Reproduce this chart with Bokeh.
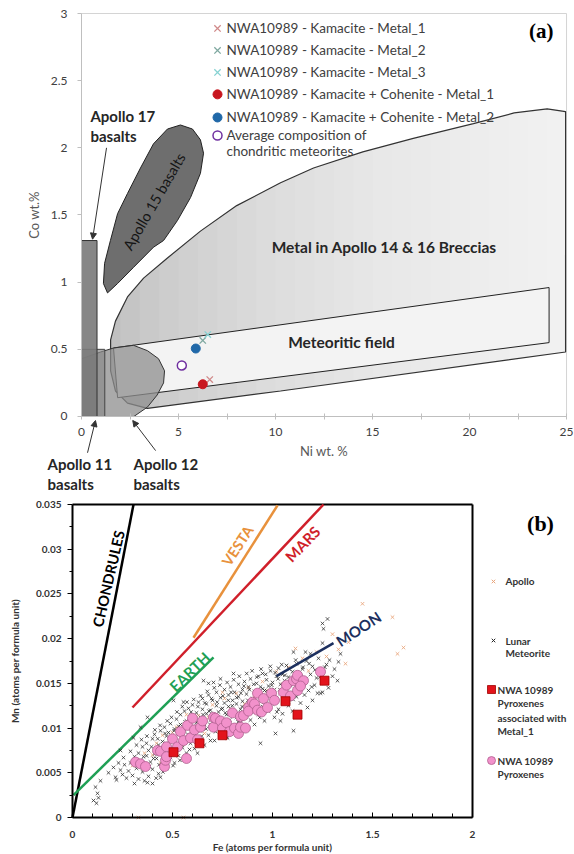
import numpy as np
from bokeh.plotting import figure
from bokeh.layouts import column
from bokeh.models import (Range1d, FixedTicker, NumeralTickFormatter, Label, Arrow,
                          NormalHead, LinearAxis)
from bokeh.core.properties import value
from bokeh.embed import file_html
from bokeh.resources import INLINE

FONT = "Lato"

# ================= Panel (a) data =================
A_XTICKS = [0, 5, 10, 15, 20, 25]
A_XMINOR = [2.5, 7.5, 12.5, 17.5, 22.5]
A_YTICKS = [0, 0.5, 1, 1.5, 2, 2.5, 3]
A_XMAX, A_YMAX = 25, 3

BRECCIA_NI = [1.5, 1.5, 1.75, 2.37, 3.2, 4.43, 6.13, 8.0, 10.26, 11.96, 14.5, 17.1, 20.2,
              22.3, 24.0, 24.95, 24.95, 10.26, 3.4, 2.37, 1.75]
BRECCIA_CO = [0.34, 0.57, 0.71, 0.89, 1.03, 1.18, 1.38, 1.57, 1.74, 1.85, 1.97, 2.07, 2.18,
              2.26, 2.29, 2.27, 0.48, 0.19, 0.06, 0.10, 0.19]

METEORITIC_NI = [1.65, 24.1, 24.1, 1.86]
METEORITIC_CO = [0.51, 0.96, 0.55, 0.14]

APOLLO12_NI = [0.0, 0.98, 1.65, 2.68, 3.4, 3.97, 4.28, 4.23, 3.9, 3.4, 2.7, 0.0]
APOLLO12_CO = [0.43, 0.48, 0.51, 0.53, 0.49, 0.43, 0.34, 0.25, 0.16, 0.07, 0.0, 0.0]

APOLLO11_NI = [0.0, 1.2, 1.2, 0.0]
APOLLO11_CO = [0.0, 0.0, 0.5, 0.5]

APOLLO17_NI = [0.0, 0.8, 0.8, 0.0]
APOLLO17_CO = [0.0, 0.0, 1.31, 1.31]

APOLLO15_NI = [1.49, 1.86, 2.37, 3.04, 3.71, 4.43, 5.1, 5.72, 6.13, 6.29, 6.13, 5.62, 4.95,
               4.23, 3.71, 2.68, 1.86, 1.34, 1.13, 1.19]
APOLLO15_CO = [1.31, 1.51, 1.66, 1.85, 2.03, 2.14, 2.17, 2.14, 2.06, 1.96, 1.81, 1.63, 1.46,
               1.31, 1.26, 1.11, 0.99, 0.92, 0.99, 1.14]

KAM_M1_NI, KAM_M1_CO = [6.61], [0.275]
KAM_M2_NI, KAM_M2_CO = [6.25], [0.566]
KAM_M3_NI, KAM_M3_CO = [6.51], [0.61]
KC_M1_NI, KC_M1_CO = [6.25], [0.24]
KC_M2_NI, KC_M2_CO = [5.89], [0.506]
CHOND_NI, CHOND_CO = [5.17], [0.38]

LEG_A_LABELS = ["NWA10989 - Kamacite - Metal_1",
                "NWA10989 - Kamacite - Metal_2",
                "NWA10989 - Kamacite - Metal_3",
                "NWA10989 - Kamacite + Cohenite - Metal_1",
                "NWA10989 - Kamacite + Cohenite - Metal_2",
                "Average composition of",
                "chondritic meteorites"]

# ================= Panel (b) data =================
B_XTICKS = [0, 0.5, 1, 1.5, 2]
B_XMINOR = [0.1, 0.2, 0.3, 0.4, 0.6, 0.7, 0.8, 0.9, 1.1, 1.2, 1.3, 1.4, 1.6, 1.7, 1.8, 1.9]
B_YTICKS = [0, 0.005, 0.01, 0.015, 0.02, 0.025, 0.03, 0.035]
B_YMINOR = [0.0025, 0.0075, 0.0125, 0.0175, 0.0225, 0.0275, 0.0325]
B_XMAX, B_YMAX = 2, 0.035

CHONDRULES_FE, CHONDRULES_MN = [0.0, 0.305], [0.0, 0.035]
EARTH_FE, EARTH_MN = [0.005, 0.705], [0.0025, 0.0179]
MARS_FE, MARS_MN = [0.30, 1.255], [0.0123, 0.035]
VESTA_FE, VESTA_MN = [0.605, 1.025], [0.0201, 0.0349]
MOON_FE, MOON_MN = [1.02, 1.305], [0.0158, 0.0195]

LUNAR_FE = [0.28, 0.29, 0.30, 0.31, 0.32, 0.33, 0.33, 0.34, 0.35, 0.35,
            0.36, 0.37, 0.37, 0.38, 0.38, 0.39, 0.40, 0.40, 0.41, 0.41,
            0.42, 0.43, 0.43, 0.44, 0.44, 0.45, 0.45, 0.46, 0.46, 0.47,
            0.47, 0.48, 0.48, 0.49, 0.49, 0.50, 0.50, 0.51, 0.51, 0.52,
            0.52, 0.53, 0.53, 0.54, 0.54, 0.55, 0.55, 0.56, 0.56, 0.57,
            0.57, 0.58, 0.58, 0.59, 0.59, 0.60, 0.60, 0.61, 0.61, 0.62,
            0.62, 0.63, 0.63, 0.64, 0.64, 0.65, 0.65, 0.66, 0.66, 0.67,
            0.67, 0.68, 0.68, 0.69, 0.69, 0.70, 0.70, 0.71, 0.71, 0.72,
            0.72, 0.73, 0.73, 0.74, 0.74, 0.75, 0.75, 0.76, 0.76, 0.77,
            0.77, 0.78, 0.78, 0.79, 0.79, 0.80, 0.80, 0.81, 0.81, 0.82,
            0.82, 0.83, 0.83, 0.84, 0.84, 0.85, 0.85, 0.86, 0.86, 0.87,
            0.87, 0.88, 0.88, 0.89, 0.89, 0.90, 0.90, 0.91, 0.91, 0.92,
            0.92, 0.93, 0.93, 0.94, 0.94, 0.95, 0.95, 0.96, 0.96, 0.97,
            0.97, 0.98, 0.98, 0.99, 0.99, 1.00, 1.00, 1.01, 1.01, 1.02,
            1.02, 1.03, 1.03, 1.04, 1.04, 1.05, 1.05, 1.06, 1.06, 1.07,
            1.07, 1.08, 1.08, 1.09, 1.09, 1.10, 1.10, 1.11, 1.12, 1.12,
            1.13, 1.14, 1.14, 1.15, 1.16, 1.16, 1.17, 1.18, 1.19, 1.20,
            1.20, 1.21, 1.22, 1.23, 1.24, 1.25, 1.26, 1.27, 1.28, 1.30,
            0.22, 0.24, 0.26, 0.27, 0.23, 0.25,
            0.115, 0.125, 0.105, 0.13, 0.12, 0.14, 0.18, 0.205, 0.215, 0.255,
            0.24, 0.305, 0.34, 0.375, 0.505, 0.555, 0.655, 0.68, 0.705, 0.74,
            0.805, 0.375, 0.40, 0.44, 0.625, 0.69, 0.775,
            1.25, 1.275, 1.255, 1.34, 1.325, 1.225, 1.25, 1.105, 1.015, 0.94,
            1.175, 1.04, 1.19, 1.165, 1.105, 1.25,
            0.29, 0.31, 0.32, 0.335, 0.345, 0.355, 0.36, 0.372, 0.385, 0.395,
            0.405, 0.412, 0.418, 0.426, 0.433, 0.438, 0.447, 0.452, 0.463, 0.468,
            0.474, 0.483, 0.487, 0.495, 0.503, 0.508, 0.516, 0.522, 0.531, 0.537,
            0.545, 0.549, 0.558, 0.563, 0.572, 0.577, 0.585, 0.593, 0.598, 0.606,
            0.612, 0.618, 0.627, 0.633, 0.641, 0.646, 0.653, 0.661, 0.668, 0.674,
            0.682, 0.688, 0.695, 0.703, 0.709, 0.716, 0.723, 0.731, 0.737, 0.744,
            0.752, 0.758, 0.764, 0.773, 0.779, 0.786, 0.793, 0.799, 0.806, 0.813,
            0.821, 0.828, 0.834, 0.842, 0.848, 0.857, 0.863, 0.871, 0.877, 0.884,
            0.893, 0.898, 0.906, 0.913, 0.921, 0.928, 0.936, 0.943, 0.951, 0.958,
            0.966, 0.974, 0.981, 0.989, 0.996, 1.006, 1.013, 1.022, 1.028, 1.037,
            1.046, 1.053, 1.062, 1.071, 1.083, 1.094, 1.103, 1.116, 1.127, 1.138,
            1.152, 1.167, 1.183, 1.196, 1.212, 1.236, 1.262, 1.285, 1.31, 1.33]
LUNAR_MN = [0.0052, 0.0061, 0.0047, 0.0068, 0.0055, 0.0072, 0.0043, 0.0064, 0.0079, 0.0051,
            0.0058, 0.0083, 0.0069, 0.0046, 0.0075, 0.0062, 0.0088, 0.0054, 0.0071, 0.0093,
            0.0066, 0.0081, 0.0049, 0.0076, 0.0097, 0.0060, 0.0085, 0.0070, 0.0101, 0.0091,
            0.0055, 0.0079, 0.0095, 0.0067, 0.0105, 0.0087, 0.0074, 0.0099, 0.0061, 0.0110,
            0.0082, 0.0093, 0.0069, 0.0104, 0.0115, 0.0078, 0.0089, 0.0098, 0.0119, 0.0072,
            0.0108, 0.0091, 0.0122, 0.0083, 0.0113, 0.0101, 0.0126, 0.0077, 0.0094, 0.0117,
            0.0106, 0.0129, 0.0088, 0.0112, 0.0097, 0.0121, 0.0133, 0.0081, 0.0104, 0.0116,
            0.0127, 0.0092, 0.0137, 0.0109, 0.0120, 0.0099, 0.0131, 0.0086, 0.0114, 0.0125,
            0.0140, 0.0103, 0.0118, 0.0095, 0.0134, 0.0122, 0.0108, 0.0143, 0.0128, 0.0090,
            0.0115, 0.0137, 0.0124, 0.0102, 0.0146, 0.0119, 0.0131, 0.0096, 0.0140, 0.0112,
            0.0127, 0.0149, 0.0135, 0.0106, 0.0121, 0.0143, 0.0130, 0.0101, 0.0152, 0.0117,
            0.0138, 0.0126, 0.0146, 0.0109, 0.0155, 0.0133, 0.0122, 0.0141, 0.0104, 0.0150,
            0.0128, 0.0158, 0.0115, 0.0137, 0.0146, 0.0124, 0.0161, 0.0108, 0.0142, 0.0132,
            0.0154, 0.0119, 0.0147, 0.0138, 0.0164, 0.0127, 0.0151, 0.0112, 0.0143, 0.0158,
            0.0134, 0.0167, 0.0121, 0.0149, 0.0140, 0.0160, 0.0116, 0.0153, 0.0131, 0.0145,
            0.0170, 0.0125, 0.0157, 0.0139, 0.0148, 0.0163, 0.0119, 0.0152, 0.0135, 0.0172,
            0.0144, 0.0158, 0.0128, 0.0166, 0.0137, 0.0151, 0.0175, 0.0142, 0.0160, 0.0131,
            0.0169, 0.0148, 0.0156, 0.0178, 0.0139, 0.0163, 0.0150, 0.0171, 0.0145, 0.0158,
            0.0042, 0.0053, 0.0059, 0.0044, 0.0061, 0.0048,
            0.0034, 0.0027, 0.0019, 0.0022, 0.0016, 0.0041, 0.0050, 0.0056, 0.0045, 0.0067,
            0.0075, 0.0089, 0.0101, 0.0112, 0.0131, 0.0129, 0.0153, 0.0150, 0.0151, 0.0155,
            0.0161, 0.0039, 0.0038, 0.0045, 0.0072, 0.0086, 0.0089,
            0.0217, 0.0222, 0.0211, 0.0183, 0.0153, 0.0139, 0.0140, 0.0097, 0.0094, 0.0083,
            0.0123, 0.0108, 0.0183, 0.0185, 0.0185, 0.0195,
            0.0074, 0.0038, 0.0081, 0.0058, 0.0087, 0.0068, 0.0041, 0.0091, 0.0057, 0.0079,
            0.0066, 0.0098, 0.0044, 0.0088, 0.0059, 0.0103, 0.0078, 0.0051, 0.0094, 0.0083,
            0.0108, 0.0066, 0.0089, 0.0112, 0.0058, 0.0097, 0.0080, 0.0118, 0.0102, 0.0064,
            0.0095, 0.0124, 0.0084, 0.0107, 0.0129, 0.0093, 0.0076, 0.0118, 0.0098, 0.0132,
            0.0109, 0.0087, 0.0124, 0.0102, 0.0136, 0.0091, 0.0115, 0.0128, 0.0099, 0.0141,
            0.0119, 0.0104, 0.0133, 0.0114, 0.0145, 0.0096, 0.0129, 0.0111, 0.0148, 0.0121,
            0.0136, 0.0103, 0.0117, 0.0151, 0.0131, 0.0109, 0.0140, 0.0125, 0.0154, 0.0118,
            0.0134, 0.0107, 0.0158, 0.0139, 0.0124, 0.0147, 0.0112, 0.0161, 0.0131, 0.0143,
            0.0118, 0.0164, 0.0149, 0.0127, 0.0157, 0.0136, 0.0112, 0.0166, 0.0144, 0.0129,
            0.0160, 0.0141, 0.0123, 0.0169, 0.0148, 0.0135, 0.0162, 0.0118, 0.0155, 0.0143,
            0.0171, 0.0128, 0.0159, 0.0137, 0.0166, 0.0151, 0.0132, 0.0176, 0.0161, 0.0147,
            0.0168, 0.0155, 0.0172, 0.0146, 0.0165, 0.0157, 0.0168, 0.0176, 0.0166, 0.0174]

APOLLO_FE = [0.45, 0.52, 0.58, 0.63, 0.70, 0.76, 0.82, 0.88, 0.95, 1.02,
             1.08, 1.15, 1.22, 1.115, 1.365, 1.45, 1.60, 1.625, 1.655, 0.33,
             0.555, 0.40, 0.48, 0.66, 0.92, 1.30, 1.38, 0.60, 0.85, 1.00,
             0.36, 0.42, 0.50, 0.55, 0.62, 0.68, 0.73, 0.79, 0.86, 0.91,
             0.97, 1.05, 1.12, 1.18, 1.27, 0.30, 0.44, 0.57, 0.75, 1.33]
APOLLO_MN = [0.0092, 0.0101, 0.0107, 0.0114, 0.0126, 0.0133, 0.0139, 0.0145, 0.0152, 0.0163,
             0.0168, 0.0178, 0.0185, 0.0189, 0.0172, 0.0239, 0.0224, 0.0183, 0.0190, 0.0,
             0.0, 0.0070, 0.0063, 0.0094, 0.0118, 0.0205, 0.0196, 0.0088, 0.0110, 0.0135,
             0.0072, 0.0083, 0.0095, 0.0081, 0.0099, 0.0112, 0.0106, 0.0121, 0.0127, 0.0134,
             0.0142, 0.0149, 0.0158, 0.0164, 0.0180, 0.0058, 0.0061, 0.0115, 0.0140, 0.0188]

PYX_FE = [0.315, 0.34, 0.365, 0.425, 0.44, 0.46, 0.465, 0.47, 0.47, 0.50,
          0.525, 0.54, 0.555, 0.57, 0.575, 0.59, 0.60, 0.61, 0.625, 0.64,
          0.65, 0.705, 0.705, 0.715, 0.74, 0.75, 0.77, 0.785, 0.80, 0.81,
          0.83, 0.84, 0.855, 0.84, 0.865, 0.88, 0.88, 0.90, 0.91, 0.925,
          0.925, 0.945, 0.955, 0.975, 0.995, 1.01, 1.055, 1.07, 1.09, 1.105,
          1.12, 1.125, 1.125, 1.155, 1.24, 1.14]
PYX_MN = [0.0062, 0.0060, 0.0057, 0.0075, 0.0074, 0.0057, 0.0064, 0.0079, 0.0068, 0.0088,
          0.0079, 0.0096, 0.0086, 0.0066, 0.0103, 0.0089, 0.0111, 0.0098, 0.0087, 0.0101,
          0.0108, 0.0101, 0.0112, 0.0111, 0.0108, 0.0100, 0.0106, 0.0096, 0.0117, 0.0100,
          0.0094, 0.0113, 0.0114, 0.0101, 0.0100, 0.0123, 0.0119, 0.0129, 0.0127, 0.0139,
          0.0120, 0.0118, 0.0133, 0.0123, 0.0139, 0.0131, 0.0140, 0.0148, 0.0136, 0.0153,
          0.0155, 0.0142, 0.0159, 0.0153, 0.0163, 0.0147]

PYX_M1_FE = [0.505, 0.635, 0.75, 1.065, 1.125, 1.26]
PYX_M1_MN = [0.0073, 0.0083, 0.0092, 0.0130, 0.0115, 0.0153]

# ================= Panel (a) =================
# the frame fills the whole figure; axes are fixed at 0 so the margin texts live inside it
pa = figure(width=574, height=494, x_range=Range1d(-4.175, 25.41), y_range=Range1d(-0.5807, 3.0968),
            x_axis_location=None, y_axis_location=None,
            output_backend="svg", toolbar_location=None,
            min_border_left=0, min_border_right=0, min_border_top=0, min_border_bottom=0)
pa.grid.visible = False
pa.outline_line_color = None

xa = LinearAxis(fixed_location=0, bounds=(0, A_XMAX),
                ticker=FixedTicker(ticks=A_XTICKS, minor_ticks=A_XMINOR))
pa.add_layout(xa, "below")
ya = LinearAxis(fixed_location=0, bounds=(0, A_YMAX),
                ticker=FixedTicker(ticks=A_YTICKS, minor_ticks=[]),
                formatter=NumeralTickFormatter(format="0.[0]"))
pa.add_layout(ya, "left")
# light frame on top and right
pa.segment(x0=[0, A_XMAX], y0=[A_YMAX, 0], x1=[A_XMAX, A_XMAX], y1=[A_YMAX, A_YMAX],
           line_color="#d4d4d4", line_width=1)

for ax in (xa, ya):
    ax.axis_line_color = "#bfbfbf"
    ax.major_tick_line_color = "#bfbfbf"
    ax.minor_tick_line_color = "#bfbfbf"
    ax.major_label_text_font = FONT
    ax.major_label_text_font_size = "12px"
    ax.major_label_text_color = "#404040"
    ax.axis_label_text_font = FONT
    ax.axis_label_text_font_style = "normal"
    ax.axis_label_text_font_size = "13px"
    ax.axis_label_text_color = "#595959"

xa.major_tick_in = 3
xa.major_tick_out = 3
xa.minor_tick_in = 3
xa.minor_tick_out = 3
xa.major_label_standoff = 9
xa.axis_label = "Ni wt. %"
xa.axis_label_standoff = 3

ya.major_tick_in = 0
ya.major_tick_out = 4
ya.major_label_standoff = 10
ya.axis_label = "Co wt.%"
ya.axis_label_standoff = 6

# breccia field, lightening from left to right
pa.patch(BRECCIA_NI, BRECCIA_CO, fill_color="#c0c0c0", line_color=None)
lefts = np.linspace(2.0, 24.0, 23)
pa.quad(left=lefts, right=24.95, bottom=0, top=2.35,
        fill_color="white", fill_alpha=0.08, line_color=None)
pa.patch(BRECCIA_NI, BRECCIA_CO, fill_color=None, line_color="#333333", line_width=1.2)

pa.patch(METEORITIC_NI, METEORITIC_CO, fill_color="#f3f3f3", line_color="#222222", line_width=1)
pa.patch(APOLLO12_NI, APOLLO12_CO, fill_color="#8e8e8e", fill_alpha=0.75,
         line_color="#333333", line_width=1)
pa.patch(APOLLO11_NI, APOLLO11_CO, fill_color="#8a8a8a", fill_alpha=0.7,
         line_color="#444444", line_width=1)
pa.patch(APOLLO17_NI, APOLLO17_CO, fill_color="#7a7a7a", fill_alpha=0.9,
         line_color="#333333", line_width=1)
pa.patch(APOLLO15_NI, APOLLO15_CO, fill_color="#6e6e6e", line_color="#222222", line_width=1)

# data points
pa.scatter(KAM_M1_NI, KAM_M1_CO, marker="x", size=9, line_color="#d08a8a", line_width=1.3)
pa.scatter(KAM_M2_NI, KAM_M2_CO, marker="x", size=9, line_color="#7fa8a0", line_width=1.3)
pa.scatter(KAM_M3_NI, KAM_M3_CO, marker="x", size=9, line_color="#86d2d2", line_width=1.3)
pa.scatter(KC_M1_NI, KC_M1_CO, marker="circle", size=9, fill_color="#c8161e", line_color="#c8161e")
pa.scatter(KC_M2_NI, KC_M2_CO, marker="circle", size=9, fill_color="#2068a8", line_color="#2068a8")
pa.scatter(CHOND_NI, CHOND_CO, marker="circle", size=9, fill_color="white",
           line_color="#7030a0", line_width=1.5)

# legend (a)
LEG_A_X, LEG_A_TX = 7.01, 7.47
LEG_A_Y = [2.889, 2.725, 2.561, 2.398, 2.226, 2.092, 1.973]
pa.scatter([LEG_A_X], [LEG_A_Y[0]], marker="x", size=9, line_color="#d08a8a", line_width=1.3)
pa.scatter([LEG_A_X], [LEG_A_Y[1]], marker="x", size=9, line_color="#7fa8a0", line_width=1.3)
pa.scatter([LEG_A_X], [LEG_A_Y[2]], marker="x", size=9, line_color="#86d2d2", line_width=1.3)
pa.scatter([LEG_A_X], [LEG_A_Y[3]], marker="circle", size=9, fill_color="#c8161e", line_color="#c8161e")
pa.scatter([LEG_A_X], [LEG_A_Y[4]], marker="circle", size=9, fill_color="#2068a8", line_color="#2068a8")
pa.scatter([LEG_A_X], [LEG_A_Y[5]], marker="circle", size=9, fill_color="white",
           line_color="#7030a0", line_width=1.5)
pa.text(x=[LEG_A_TX] * len(LEG_A_LABELS), y=LEG_A_Y, text=LEG_A_LABELS,
        text_font=value(FONT), text_font_size="13.5px", text_color="#404040",
        text_align="left", text_baseline="middle")

# region labels
pa.text(x=[15.6], y=[1.26], text=["Metal in Apollo 14 & 16 Breccias"], text_font=value(FONT),
        text_font_style="bold", text_font_size="15.5px", text_color="#262626",
        text_align="center", text_baseline="middle")
pa.text(x=[13.4], y=[0.555], text=["Meteoritic field"], text_font=value(FONT),
        text_font_style="bold", text_font_size="15.5px", text_color="#262626",
        text_align="center", text_baseline="middle")
pa.text(x=[3.74], y=[1.60], text=["Apollo 15 basalts"], angle=np.deg2rad(60),
        text_font=value(FONT), text_font_size="14.5px", text_color="#151515",
        text_align="center", text_baseline="middle")

def lab(p, x, y, t, size="15px", font=FONT, style="bold", color="#262626", align="left"):
    p.add_layout(Label(x=x, y=y, text=t, text_font=font, text_font_style=style,
                       text_font_size=size, text_color=color, text_align=align,
                       text_baseline="middle"))

lab(pa, 0.46, 2.24, "Apollo 17")
lab(pa, 0.46, 2.09, "basalts")
lab(pa, -1.75, -0.351, "Apollo 11")
lab(pa, -1.75, -0.50, "basalts")
lab(pa, 2.68, -0.351, "Apollo 12")
lab(pa, 2.68, -0.50, "basalts")
lab(pa, 23.7, 2.87, "(a)", size="21px", font="Liberation Serif", color="#000000", align="center")

for (xs, ys, xe, ye) in [(1.29, 2.0, 0.57, 1.32), (0.31, -0.27, 0.72, -0.03), (3.82, -0.254, 2.64, -0.03)]:
    pa.add_layout(Arrow(end=NormalHead(size=6, fill_color="#333333", line_color="#333333"),
                        x_start=xs, y_start=ys, x_end=xe, y_end=ye,
                        line_color="#333333", line_width=1))

# ================= Panel (b) =================
pb = figure(width=574, height=360, x_range=Range1d(-0.36, 2.51), y_range=Range1d(-0.004137, 0.036118),
            x_axis_location=None, y_axis_location=None,
            output_backend="svg", toolbar_location=None,
            min_border_left=0, min_border_right=0, min_border_top=0, min_border_bottom=0)
pb.grid.visible = False
pb.outline_line_color = None

xb = LinearAxis(fixed_location=0, bounds=(0, B_XMAX),
                ticker=FixedTicker(ticks=B_XTICKS, minor_ticks=B_XMINOR))
pb.add_layout(xb, "below")
yb = LinearAxis(fixed_location=0, bounds=(0, B_YMAX),
                ticker=FixedTicker(ticks=B_YTICKS, minor_ticks=B_YMINOR),
                formatter=NumeralTickFormatter(format="0.[000]"))
pb.add_layout(yb, "left")

for ax in (xb, yb):
    ax.axis_line_color = "black"
    ax.axis_line_width = 2
    ax.major_tick_line_color = "black"
    ax.minor_tick_line_color = "black"
    ax.major_label_text_font = FONT
    ax.major_label_text_font_style = "bold"
    ax.major_label_text_font_size = "10px"
    ax.major_label_text_color = "#333333"
    ax.axis_label_text_font = FONT
    ax.axis_label_text_font_style = "bold"
    ax.axis_label_text_font_size = "10px"
    ax.axis_label_text_color = "#333333"

xb.major_tick_in = 5
xb.major_tick_out = 0
xb.minor_tick_in = 4
xb.minor_tick_out = 0
xb.major_label_standoff = 13
xb.axis_label = "Fe (atoms per formula unit)"
xb.axis_label_standoff = 0

yb.major_tick_in = 0
yb.major_tick_out = 5
yb.minor_tick_in = 0
yb.minor_tick_out = 3
yb.major_label_standoff = 6
yb.axis_label = "Mn (atoms per formula unit)"
yb.axis_label_standoff = 12

# black frame on top and right
pb.segment(x0=[0, B_XMAX], y0=[B_YMAX, 0], x1=[B_XMAX, B_XMAX], y1=[B_YMAX, B_YMAX],
           line_color="black", line_width=2)

pb.line(CHONDRULES_FE, CHONDRULES_MN, line_color="black", line_width=2.5)
pb.line(EARTH_FE, EARTH_MN, line_color="#1fa055", line_width=2.5)
pb.line(MARS_FE, MARS_MN, line_color="#d01f2a", line_width=2.5)
pb.line(VESTA_FE, VESTA_MN, line_color="#e8913c", line_width=2.5)

pb.scatter(APOLLO_FE, APOLLO_MN, marker="x", size=5, line_color="#e9a47a", line_width=1, line_alpha=0.85)
pb.scatter(LUNAR_FE, LUNAR_MN, marker="x", size=5, line_color="#262626", line_width=1, line_alpha=0.75)
pb.line(MOON_FE, MOON_MN, line_color="#1c2f5e", line_width=2.5)
pb.scatter(PYX_FE, PYX_MN, marker="circle", size=10, fill_color="#f291cb",
           line_color="#b0608f", line_width=0.8)
pb.scatter(PYX_M1_FE, PYX_M1_MN, marker="square", size=9, fill_color="#e3131b",
           line_color="#a00000", line_width=0.8)

def ltext(p, x, y, t, color, angle_deg, size="15px"):
    p.text(x=[x], y=[y], text=[t], angle=np.deg2rad(angle_deg), text_font=value(FONT),
           text_font_style="bold", text_font_size=size, text_color=color,
           text_align="center", text_baseline="middle")

ltext(pb, 0.18, 0.0267, "CHONDRULES", "black", 77, size="14.5px")
ltext(pb, 0.825, 0.0304, "VESTA", "#e8913c", 57, size="14.5px")
ltext(pb, 1.15, 0.0306, "MARS", "#d01f2a", 46)
ltext(pb, 0.585, 0.0163, "EARTH", "#1fa055", 44)
ltext(pb, 1.43, 0.0211, "MOON", "#1c2f5e", 33)

# legend (b)
pb.scatter([2.105], [0.02639], marker="x", size=5, line_color="#e9a47a", line_width=1)
pb.scatter([2.105], [0.01979], marker="x", size=5, line_color="#262626", line_width=1)
pb.scatter([2.095], [0.01431], marker="square", size=8, fill_color="#e3131b",
           line_color="#a00000", line_width=0.8)
pb.scatter([2.095], [0.00637], marker="circle", size=8, fill_color="#f291cb",
           line_color="#b0608f", line_width=0.8)
LEG_B_LINES = ["Apollo", "Lunar", "Meteorite", "NWA 10989", "Pyroxenes", "associated with",
               "Metal_1", "NWA 10989", "Pyroxenes"]
LEG_B_X = [2.165, 2.165, 2.165, 2.125, 2.125, 2.125, 2.125, 2.125, 2.125]
LEG_B_Y = [0.02639, 0.01979, 0.01834, 0.01431, 0.01275, 0.01118, 0.00962, 0.00637, 0.00481]
pb.text(x=LEG_B_X, y=LEG_B_Y, text=LEG_B_LINES, text_font=value(FONT),
        text_font_style="bold", text_font_size="10px", text_color="#333333",
        text_align="left", text_baseline="middle")
lab(pb, 2.34, 0.0329, "(b)", size="22px", font="Liberation Serif", color="#000000", align="center")

layout = column(pa, pb, spacing=0)
open("out.html", "w").write(file_html(layout, INLINE))
